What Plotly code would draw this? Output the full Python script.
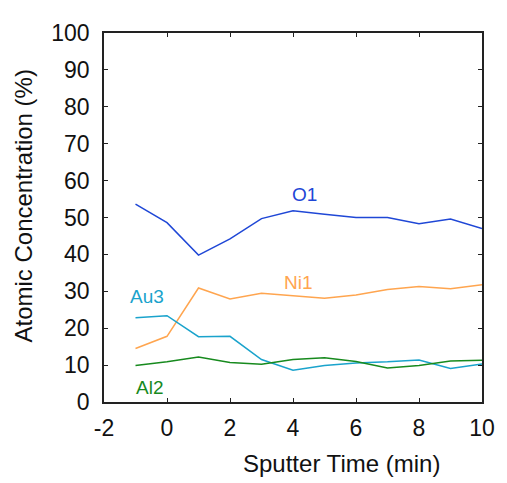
import plotly.graph_objects as go

time_min = [-1, 0, 1, 2, 3, 4, 5, 6, 7, 8, 9, 10]
o1 = [53.6, 48.6, 39.8, 44.2, 49.7, 51.8, 50.9, 50.0, 50.0, 48.3, 49.6, 47.0]
ni1 = [14.5, 17.8, 30.9, 27.9, 29.5, 28.7, 28.1, 29.0, 30.5, 31.3, 30.7, 31.8]
au3 = [22.8, 23.4, 17.7, 17.8, 11.5, 8.6, 9.9, 10.6, 10.9, 11.4, 9.1, 10.3]
al2 = [9.9, 10.9, 12.2, 10.7, 10.2, 11.5, 12.0, 11.0, 9.2, 9.9, 11.1, 11.3]

series_names = ["O1", "Ni1", "Au3", "Al2"]
series_colors = ["#1f47d6", "#ffa54f", "#1aa3cc", "#178a1e"]
label_x = [4.36, 4.18, -0.62, -0.56]
label_y = [56.2, 32.5, 28.6, 3.9]

x_ticks = [-2, 0, 2, 4, 6, 8, 10]
x_ticktext = ["-2", "0", "2", "4", "6", "8", "10"]
y_ticks = [0, 10, 20, 30, 40, 50, 60, 70, 80, 90, 100]

FONT = "Liberation Sans, Arial, sans-serif"

fig = go.Figure()
for name, vals, col in zip(series_names, [o1, ni1, au3, al2], series_colors):
    fig.add_trace(go.Scatter(x=time_min, y=vals, mode="lines", name=name,
                             line=dict(color=col, width=1.5), showlegend=False))

for name, lx, ly, col in zip(series_names, label_x, label_y, series_colors):
    fig.add_annotation(x=lx, y=ly, text=name, showarrow=False,
                       font=dict(family=FONT, size=19, color=col),
                       xanchor="center", yanchor="middle")

fig.add_annotation(xref="paper", yref="paper", x=0.629, y=-0.168, text="Sputter Time (min)",
                   showarrow=False, font=dict(family=FONT, size=24, color="#111"),
                   xanchor="center", yanchor="middle")
fig.add_annotation(xref="paper", yref="paper", x=-0.214, y=0.53, text="Atomic Concentration (%)",
                   showarrow=False, textangle=-90, font=dict(family=FONT, size=24, color="#111"),
                   xanchor="center", yanchor="middle")

axis_common = dict(showgrid=False, zeroline=False, showline=True, linecolor="#222",
                   linewidth=1.5, mirror="ticks", ticks="inside", ticklen=4,
                   tickcolor="#222", tickfont=dict(family=FONT, size=23, color="#111"))

fig.update_xaxes(range=[-2, 10], tickvals=x_ticks, ticktext=x_ticktext,
                 ticklabelstandoff=5, **axis_common)
fig.update_yaxes(range=[0, 100], tickvals=y_ticks, ticklabelstandoff=8, **axis_common)

# page body has an 8px margin: size the figure so it fits the 507x483 window
fig.update_layout(width=499, height=475, plot_bgcolor="white", paper_bgcolor="white",
                  margin=dict(l=96, r=20, t=13, b=81))

fig.write_html("out.html")
